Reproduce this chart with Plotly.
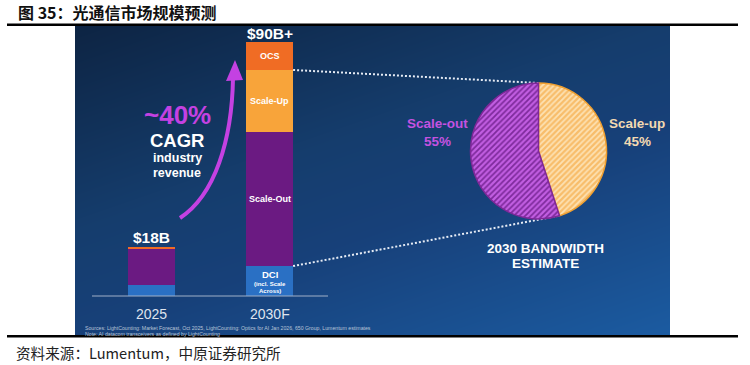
import math
import plotly.graph_objects as go

W, H = 750, 365

# ---------------- data ----------------
categories = ["2025", "2030F"]
dci = [3.9, 10.6]
scale_out = [12.8, 47.5]
scale_up = [0.0, 22.0]
ocs = [0.7, 9.9]
total_labels = ["$18B", "$90B+"]
pie_labels = ["Scale-up", "Scale-out"]
pie_values = [45, 55]
pie_pct_text = ["45%", "55%"]

# ---------------- geometry (pixels) ----------------
PX0, PY0, PX1, PY1 = 75, 26, 670, 335      # blue panel
CAT0_PX, CAT_STEP = 151.5, 118.0           # x pixel of first category, spacing
BASE_PY, PX_PER_UNIT = 296.0, 2.822        # y pixel of value 0, pixels per $B
PIE_CX, PIE_CY, PIE_R = 538.5, 151.0, 68.0


def dx(px):
    return (px - CAT0_PX) / CAT_STEP


def dy(py):
    return (BASE_PY - py) / PX_PER_UNIT


xr = [dx(PX0), dx(PX1)]
yr = [dy(PY1), dy(PY0)]
xs = list(range(len(categories)))

fig = go.Figure()

# background gradient panel
fig.add_trace(go.Heatmap(
    x=xr, y=[yr[0], yr[1]],
    z=[[0.6, 1.0], [0.0, 0.4]],
    zsmooth="best", showscale=False, hoverinfo="skip",
    colorscale=[[0, "#0d2443"], [0.4, "#153d6d"], [0.6, "#174079"], [1, "#1b5ba1"]],
))

seg_names = ["DCI", "Scale-Out", "Scale-Up", "OCS"]
seg_vals = [dci, scale_out, scale_up, ocs]
seg_cols = ["#2a70c4", "#6b1a82", "#f8a43a", "#f06c24"]
for n, v, c in zip(seg_names, seg_vals, seg_cols):
    fig.add_trace(go.Bar(x=xs, y=v, name=n, marker=dict(color=c, line=dict(width=0)),
                         width=0.4, hoverinfo="skip"))

# baseline
fig.add_trace(go.Scatter(x=[dx(92), dx(328)], y=[0, 0], mode="lines",
                         line=dict(color="#9fb0c8", width=1.2), hoverinfo="skip"))

# connectors from 2030 bar (scale-out + scale-up) to pie
i = 1
bar_right = xs[i] + 0.2
y_low = dci[i]
y_high = dci[i] + scale_out[i] + scale_up[i]
theta = 2 * math.pi * pie_values[0] / sum(pie_values)
top_pt = (dx(PIE_CX), dy(PIE_CY - PIE_R))
bot_pt = (dx(PIE_CX + PIE_R * math.sin(theta)), dy(PIE_CY - PIE_R * math.cos(theta)))
for (ys, pt) in [(y_high, top_pt), (y_low, bot_pt)]:
    fig.add_trace(go.Scatter(x=[bar_right, pt[0]], y=[ys, pt[1]], mode="lines",
                             line=dict(color="#e6ecf5", width=2, dash="2px,2px"),
                             hoverinfo="skip"))

# pie
fig.add_trace(go.Pie(
    labels=pie_labels, values=pie_values, sort=False, direction="clockwise",
    textinfo="none", hoverinfo="skip",
    domain=dict(x=[(PIE_CX - PIE_R) / W, (PIE_CX + PIE_R) / W],
                y=[1 - (PIE_CY + PIE_R) / H, 1 - (PIE_CY - PIE_R) / H]),
    marker=dict(colors=["#f8bf6e", "#b652d6"],
                line=dict(color=["#f0a030", "#7e2898"], width=1.5),
                pattern=dict(shape=["/", "/"], size=4, solidity=0.45,
                             fgcolor=["#fde2b4", "#7e2a9c"],
                             bgcolor=["#f8bd6a", "#c25ee2"],
                             fillmode="replace", fgopacity=1)),
))

BF = "Liberation Sans, Arial, sans-serif"
ann = []


def txt(x, y, s, size, color="white", bold=True, xref="x", yref="y", xanchor="center", family=BF):
    ann.append(dict(x=x, y=y, xref=xref, yref=yref, text=s, showarrow=False,
                    xanchor=xanchor, yanchor="middle",
                    font=dict(family=family, size=size, color=color,
                              weight="bold" if bold else "normal")))


# totals (placed just above each stack)
tot = [d + so + su + o for d, so, su, o in zip(dci, scale_out, scale_up, ocs)]
for x, t, lab in zip(xs, tot, total_labels):
    txt(x, t + 9 / PX_PER_UNIT, lab, 15.5)
# category labels
for x, c in zip(xs, categories):
    txt(x, dy(314), c, 14, color="#dfe4ee", bold=False)

# segment labels on 2030 bar
c0 = dci[1]
c1 = c0 + scale_out[1]
c2 = c1 + scale_up[1]
c3 = c2 + ocs[1]
txt(1, (c2 + c3) / 2, "OCS", 9)
txt(1, (c1 + c2) / 2, "Scale-Up", 9)
txt(1, (c0 + c1) / 2, "Scale-Out", 9)
txt(1, dy(274), "DCI", 9.5)
txt(1, dy(283.5), "(incl. Scale", 6)
txt(1, dy(290.5), "Across)", 6)

# CAGR text
txt(dx(177), dy(115), "~40%", 26, color="#c441e2")
txt(dx(177), dy(140), "CAGR", 18.5)
txt(dx(177), dy(158), "industry", 12.5)
txt(dx(177), dy(173), "revenue", 12.5)

# pie labels
txt(dx(437), dy(123), pie_labels[1], 13.5, color="#c452e0")
txt(dx(437), dy(141), pie_pct_text[1], 13.5, color="#c452e0")
txt(dx(637), dy(123), pie_labels[0], 13.5, color="#f3d9b1")
txt(dx(637), dy(141), pie_pct_text[0], 13.5, color="#f3d9b1")
txt(dx(545), dy(248), "2030 BANDWIDTH", 13.5)
txt(dx(545), dy(263), "ESTIMATE", 13.5)

# sources
txt(83 / W, 1 - 328 / H, "Sources: LightCounting: Market Forecast, Oct 2025, LightCounting: Optics for AI Jan 2026, 650 Group, Lumentum estimates",
    5.2, color="#b9c5d8", bold=False, xref="paper", yref="paper", xanchor="left")
txt(83 / W, 1 - 333.5 / H, "Note: AI datacom transceivers as defined by LightCounting",
    5.2, color="#b9c5d8", bold=False, xref="paper", yref="paper", xanchor="left")

CJK = "Noto Sans CJK SC, Liberation Sans, sans-serif"
txt(16 / W, 1 - 12 / H, "图 35：光通信市场规模预测", 16, color="#111111", bold=True,
    xref="paper", yref="paper", xanchor="left", family=CJK)
txt(14 / W, 1 - 352 / H, "资料来源：Lumentum，中原证券研究所", 14.6, color="#222222", bold=False,
    xref="paper", yref="paper", xanchor="left", family=CJK)

shapes = [
    # CAGR arrow curve
    dict(type="path", xref="x", yref="y",
         path=f"M {dx(180)},{dy(218)} C {dx(215)},{dy(195)} {dx(232)},{dy(140)} {dx(233)},{dy(78)}",
         line=dict(color="#c441e2", width=4)),
    dict(type="path", xref="x", yref="y", fillcolor="#c441e2", line=dict(width=0),
         path=f"M {dx(235)},{dy(60)} L {dx(226)},{dy(81)} L {dx(243)},{dy(80)} Z"),
    # black rules
    dict(type="line", xref="paper", yref="paper", x0=7 / W, x1=738 / W,
         y0=1 - 24.8 / H, y1=1 - 24.8 / H, line=dict(color="black", width=2.5)),
    dict(type="line", xref="paper", yref="paper", x0=7 / W, x1=738 / W,
         y0=1 - 336.3 / H, y1=1 - 336.3 / H, line=dict(color="black", width=2.5)),
]

fig.update_layout(
    width=W, height=H, margin=dict(l=0, r=0, t=0, b=0),
    paper_bgcolor="white", plot_bgcolor="rgba(0,0,0,0)",
    barmode="stack", bargap=0, showlegend=False,
    xaxis=dict(domain=[PX0 / W, PX1 / W], range=xr, visible=False, fixedrange=True),
    yaxis=dict(domain=[1 - PY1 / H, 1 - PY0 / H], range=yr, visible=False, fixedrange=True),
    annotations=ann, shapes=shapes,
)

fig.write_html("out.html", config={"displayModeBar": False},
               post_script="document.body.style.margin='0px';document.body.style.overflow='hidden';")
